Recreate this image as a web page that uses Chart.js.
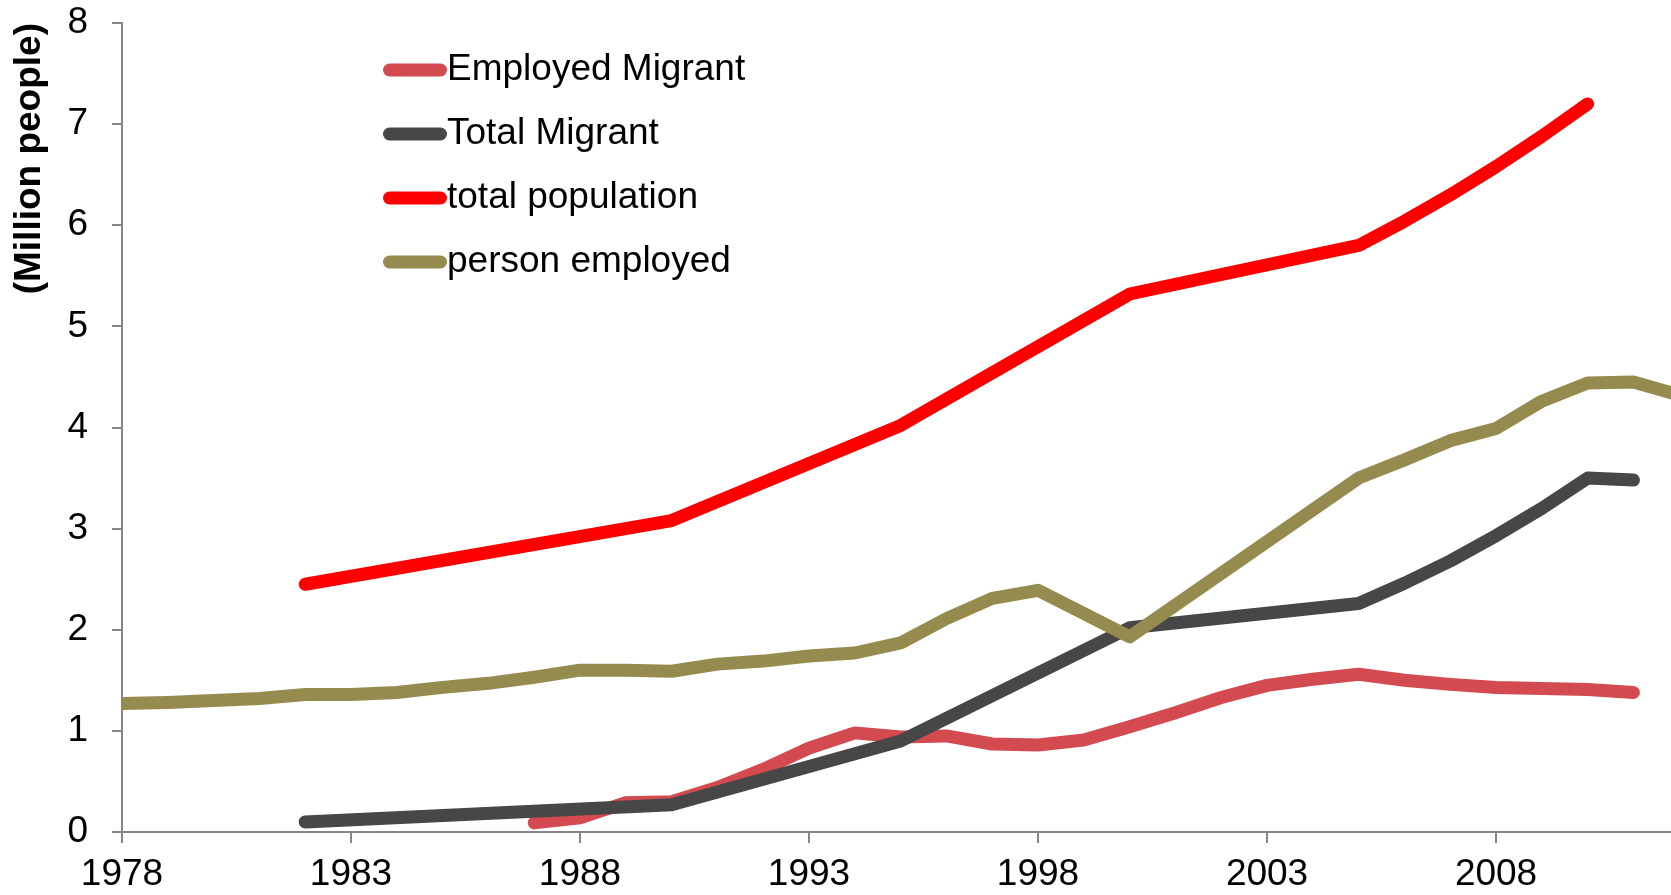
<!DOCTYPE html>
<html>
<head>
<meta charset="utf-8">
<title>Migrants and employment</title>
<script src="https://cdn.jsdelivr.net/npm/chart.js@4/dist/chart.umd.min.js"></script>
<style>
  html, body { margin: 0; padding: 0; background: #fff; overflow: hidden; }
  #wrap { position: relative; width: 1671px; height: 895px; }
</style>
</head>
<body>
<div id="wrap"><canvas id="chart"></canvas></div>
<script>
// yearly values, million people (null = no figure for that year)
const years = [1978, 1979, 1980, 1981, 1982, 1983, 1984, 1985, 1986, 1987,
    1988, 1989, 1990, 1991, 1992, 1993, 1994, 1995, 1996, 1997,
    1998, 1999, 2000, 2001, 2002, 2003, 2004, 2005, 2006, 2007,
    2008, 2009, 2010, 2011, 2012];

const employedMigrant = [null, null, null, null, null, null, null, null, null, 0.09,
    0.14, 0.29, 0.30, 0.44, 0.62, 0.83, 0.98, 0.94, 0.95, 0.87,
    0.86, 0.91, 1.04, 1.18, 1.33, 1.45, 1.51, 1.56, 1.50, 1.46,
    1.43, 1.42, 1.41, 1.38, null];

const totalMigrant = [null, null, null, null, 0.10, null, null, null, null, null,
    null, null, 0.27, null, null, null, null, 0.90, null, null,
    null, null, 2.02, null, null, null, null, 2.26, 2.46, 2.68,
    2.93, 3.20, 3.50, 3.48, null];

const totalPopulation = [null, null, null, null, 2.45, null, null, null, null, null,
    null, null, 3.08, null, null, null, null, 4.02, null, null,
    null, null, 5.32, null, null, null, null, 5.80, 6.04, 6.30,
    6.58, 6.88, 7.20, null, null];

const personEmployed = [1.27, 1.28, 1.30, 1.32, 1.36, 1.36, 1.38, 1.43, 1.47, 1.53,
    1.60, 1.60, 1.59, 1.66, 1.69, 1.74, 1.77, 1.87, 2.11, 2.31,
    2.39, null, 1.93, null, null, null, null, 3.50, 3.68, 3.87,
    3.99, 4.26, 4.44, 4.45, 4.32];

const tickYears = [1978, 1983, 1988, 1993, 1998, 2003, 2008];

const FONT = '"Liberation Sans", Arial, sans-serif';
const AXIS_GREY = '#868686';

function points(values) {
    return years.map((yr, i) => ({x: yr, y: values[i]}));
}

function series(label, values, color, order) {
    return {
        label: label,
        data: points(values),
        borderColor: color,
        backgroundColor: color,
        borderWidth: 13,
        borderCapStyle: 'round',
        borderJoinStyle: 'round',
        pointRadius: 0,
        pointHoverRadius: 0,
        spanGaps: true,
        tension: 0,
        clip: 0,
        order: order
    };
}

// legend drawn inside the plot, stacked rows with a thick line sample
const plotLegend = {
    id: 'plotLegend',
    afterDraw(chart, args, opts) {
        const ctx = chart.ctx;
        ctx.save();
        ctx.font = opts.font;
        ctx.textBaseline = 'middle';
        ctx.textAlign = 'left';
        chart.data.datasets.forEach((ds, i) => {
            const y = opts.top + i * opts.rowGap;
            ctx.strokeStyle = ds.borderColor;
            ctx.lineWidth = ds.borderWidth;
            ctx.lineCap = 'round';
            ctx.beginPath();
            ctx.moveTo(opts.left + ds.borderWidth / 2, y);
            ctx.lineTo(opts.left + opts.lineLen - ds.borderWidth / 2, y);
            ctx.stroke();
            ctx.fillStyle = '#000';
            ctx.fillText(ds.label, opts.left + opts.lineLen, y);
        });
        ctx.restore();
    }
};

const ctx = document.getElementById('chart').getContext('2d');
const chart = new Chart(ctx, {
    type: 'line',
    data: {
        datasets: [
            series('Employed Migrant', employedMigrant, '#d34b50', 3),
            series('Total Migrant', totalMigrant, '#474747', 2),
            series('total population', totalPopulation, '#ff0000', 1),
            series('person employed', personEmployed, '#958b4e', 0)
        ]
    },
    plugins: [plotLegend],
    options: {
        responsive: true,
        maintainAspectRatio: false,
        animation: false,
        events: [],
        layout: {padding: 0},
        plugins: {
            legend: {display: false},
            tooltip: {enabled: false},
            plotLegend: {left: 383, top: 70, rowGap: 64, lineLen: 64, font: '37px ' + FONT}
        },
        scales: {
            x: {
                type: 'linear',
                min: 1978,
                max: 2011.82,
                afterBuildTicks: (scale) => {
                    scale.ticks = tickYears.map(v => ({value: v}));
                },
                afterFit: (scale) => { scale.height = 63; },
                border: {display: true, color: AXIS_GREY, width: 2},
                grid: {drawOnChartArea: false, drawTicks: true, tickLength: 11, color: AXIS_GREY, lineWidth: 2},
                ticks: {
                    color: '#000',
                    font: {family: FONT, size: 37},
                    padding: 10,
                    maxRotation: 0,
                    autoSkip: false,
                    callback: (v) => String(v)
                }
            },
            y: {
                min: 0,
                max: 8,
                afterFit: (scale) => {
                    scale.width = 122;
                    // top of the plot sits where the "8" label is centred
                    scale.paddingTop = 23;
                    scale.paddingBottom = 23;
                },
                border: {display: true, color: AXIS_GREY, width: 2},
                grid: {drawOnChartArea: false, drawTicks: true, tickLength: 10, color: AXIS_GREY, lineWidth: 2},
                ticks: {
                    stepSize: 1,
                    color: '#000',
                    font: {family: FONT, size: 37},
                    padding: 24
                },
                title: {
                    display: true,
                    text: '(Million people)',
                    align: 'end',
                    color: '#000',
                    font: {family: FONT, size: 37, weight: 'bold'},
                    padding: {top: 8, bottom: 0}
                }
            }
        }
    }
});
</script>
</body>
</html>
